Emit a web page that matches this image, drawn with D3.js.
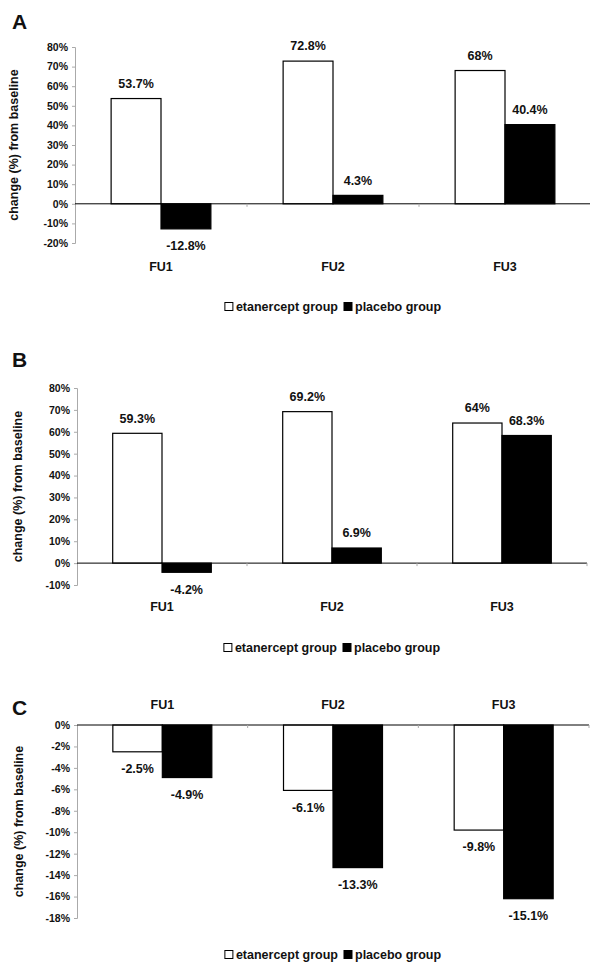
<!DOCTYPE html>
<html>
<head>
<meta charset="utf-8">
<script src="https://cdn.jsdelivr.net/npm/d3@7"></script>
<style>
  body { margin: 0; background: #fff; }
  text { font-family: "Liberation Sans", Arial, sans-serif; fill: #111; }
</style>
</head>
<body>
<div id="chart"></div>
<script>
// categories and series
const categories = ["FU1", "FU2", "FU3"];
const seriesNames = ["etanercept group", "placebo group"];

// panel A
const etanerceptA = [53.7, 72.8, 68];
const placeboA = [-12.8, 4.3, 40.4];
const etanerceptLabelsA = ["53.7%", "72.8%", "68%"];
const placeboLabelsA = ["-12.8%", "4.3%", "40.4%"];
const ticksA = [-20, -10, 0, 10, 20, 30, 40, 50, 60, 70, 80];

// panel B
const etanerceptB = [59.3, 69.2, 64];
const placeboB = [-4.2, 6.9, 58.3];
const etanerceptLabelsB = ["59.3%", "69.2%", "64%"];
const placeboLabelsB = ["-4.2%", "6.9%", "68.3%"];
const ticksB = [-10, 0, 10, 20, 30, 40, 50, 60, 70, 80];

// panel C
const etanerceptC = [-2.5, -6.1, -9.8];
const placeboC = [-4.9, -13.3, -16.2];
const etanerceptLabelsC = ["-2.5%", "-6.1%", "-9.8%"];
const placeboLabelsC = ["-4.9%", "-13.3%", "-15.1%"];
const ticksC = [-18, -16, -14, -12, -10, -8, -6, -4, -2, 0];

const width = 590, height = 966;

const svg = d3.select("#chart").append("svg")
    .attr("width", width)
    .attr("height", height);

svg.append("rect").attr("width", width).attr("height", height).attr("fill", "#fff");

function drawPanel(p) {
    const g = svg.append("g");

    // inner padding between groups, half of it on the outside -> step = range / 3
    const x = d3.scaleBand().domain(categories).range([p.x0, p.x1])
        .paddingInner(0.42).paddingOuter(0.21);
    const xs = d3.scaleBand().domain(seriesNames).range([0, x.bandwidth()]);
    const y = d3.scaleLinear().domain(d3.extent(p.ticks)).range([p.yBottom, p.yTop]);

    // panel letter
    g.append("text")
        .attr("x", 12).attr("y", p.letterY)
        .style("font-size", "21px").style("font-weight", "bold")
        .text(p.letter);

    // y axis title
    const midY = (p.yTop + p.yBottom) / 2;
    g.append("text")
        .attr("transform", "translate(" + p.titleX + "," + midY + ") rotate(-90)")
        .attr("text-anchor", "middle")
        .style("font-size", "12.5px").style("font-weight", "bold")
        .text("change (%) from baseline");

    // value axis
    const yAxis = d3.axisLeft(y)
        .tickValues(p.ticks)
        .tickSize(3)
        .tickFormat(d => d + "%");
    const ya = g.append("g")
        .attr("transform", "translate(" + p.x0 + ",0)")
        .call(yAxis);
    ya.select(".domain").attr("stroke", "#aaa");
    ya.selectAll(".tick line").attr("stroke", "#aaa");
    ya.selectAll(".tick text")
        .attr("x", -7)
        .style("font-family", "'Liberation Sans', Arial, sans-serif")
        .style("font-size", "10.5px").style("font-weight", "bold")
        .attr("fill", "#111");

    const series = [
        {name: seriesNames[0], values: p.etanercept, labels: p.etanerceptLabels, fill: "#fff"},
        {name: seriesNames[1], values: p.placebo, labels: p.placeboLabels, fill: "#000"}
    ];

    // bars
    series.forEach(s => {
        g.selectAll(null)
            .data(categories)
            .enter().append("rect")
            .attr("x", (c) => x(c) + xs(s.name))
            .attr("width", xs.bandwidth())
            .attr("y", (c, i) => Math.min(y(0), y(s.values[i])))
            .attr("height", (c, i) => Math.abs(y(s.values[i]) - y(0)))
            .attr("fill", s.fill)
            .attr("stroke", "#000")
            .attr("stroke-width", 1.2);

        g.selectAll(null)
            .data(categories)
            .enter().append("text")
            .attr("x", (c) => x(c) + xs(s.name) + xs.bandwidth() / 2)
            .attr("y", (c, i) => s.values[i] >= 0 ? y(s.values[i]) - 15 : y(s.values[i]) + 17)
            .attr("dy", "0.35em")
            .attr("text-anchor", "middle")
            .style("font-size", "12.5px").style("font-weight", "bold")
            .text((c, i) => s.labels[i]);
    });

    // category axis on zero line
    g.append("line")
        .attr("x1", p.x0).attr("x2", p.x1)
        .attr("y1", y(0)).attr("y2", y(0))
        .attr("stroke", "#000").attr("stroke-width", 1);
    const step = x.step();
    d3.range(1, categories.length + 1).forEach(i => {
        g.append("line")
            .attr("x1", p.x0 + step * i).attr("x2", p.x0 + step * i)
            .attr("y1", y(0)).attr("y2", y(0) + 3)
            .attr("stroke", "#aaa");
    });

    // category labels
    g.selectAll(null)
        .data(categories)
        .enter().append("text")
        .attr("x", c => x(c) + x.bandwidth() / 2)
        .attr("y", p.catY)
        .attr("dy", "0.35em")
        .attr("text-anchor", "middle")
        .style("font-size", "12.5px").style("font-weight", "bold")
        .text(c => c);

    // legend
    const lg = g.append("g");
    let cx = 0;
    series.forEach((s, i) => {
        lg.append("rect")
            .attr("x", cx).attr("y", -4.5)
            .attr("width", 8).attr("height", 8)
            .attr("fill", s.fill).attr("stroke", "#000").attr("stroke-width", 1);
        cx += 11;
        const t = lg.append("text")
            .attr("x", cx).attr("y", 0)
            .attr("dy", "0.35em")
            .style("font-size", "12.5px").style("font-weight", "bold")
            .text(s.name);
        cx += t.node().getComputedTextLength() + 6;
    });
    const legendW = cx - 6;
    lg.attr("transform", "translate(" + ((p.x0 + p.x1) / 2 - legendW / 2) + "," + p.legendY + ")");
}

drawPanel({
    letter: "A", letterY: 29, titleX: 18,
    x0: 75, x1: 591, yTop: 47, yBottom: 243,
    ticks: ticksA, catY: 267, legendY: 307,
    etanercept: etanerceptA, placebo: placeboA,
    etanerceptLabels: etanerceptLabelsA, placeboLabels: placeboLabelsA
});

drawPanel({
    letter: "B", letterY: 367, titleX: 22,
    x0: 77, x1: 587, yTop: 388, yBottom: 585,
    ticks: ticksB, catY: 607, legendY: 648,
    etanercept: etanerceptB, placebo: placeboB,
    etanerceptLabels: etanerceptLabelsB, placeboLabels: placeboLabelsB
});

drawPanel({
    letter: "C", letterY: 715, titleX: 23,
    x0: 77, x1: 589, yTop: 725, yBottom: 918,
    ticks: ticksC, catY: 705, legendY: 955,
    etanercept: etanerceptC, placebo: placeboC,
    etanerceptLabels: etanerceptLabelsC, placeboLabels: placeboLabelsC
});
</script>
</body>
</html>
